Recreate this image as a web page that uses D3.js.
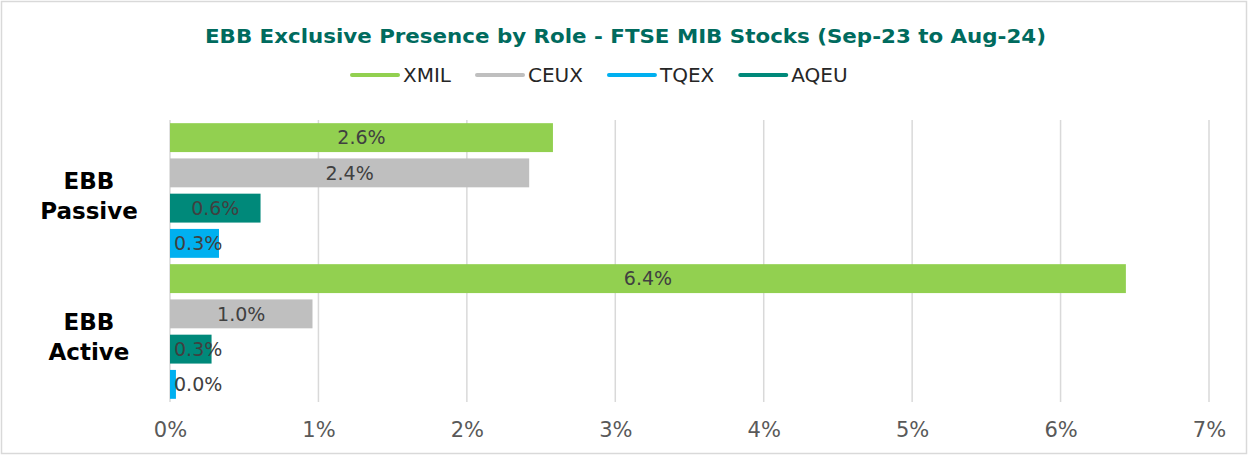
<!DOCTYPE html>
<html>
<head>
<meta charset="utf-8">
<script src="https://cdn.jsdelivr.net/npm/d3@7"></script>
<style>
  html, body { margin: 0; padding: 0; background: #fff; }
  svg { display: block; }
</style>
</head>
<body>
<svg id="viz" width="1248" height="455"></svg>
<script>
// ----------------------- DATA
const categories = ['EBB Passive', 'EBB Active'];
const series = ['XMIL', 'CEUX', 'AQEU', 'TQEX'];      // bar order inside a group
const legendOrder = ['XMIL', 'CEUX', 'TQEX', 'AQEU'];  // order shown in the legend
const xmil = [2.58, 6.44];
const ceux = [2.42, 0.96];
const aqeu = [0.61, 0.28];
const tqex = [0.33, 0.04];
const xTicks = [0, 1, 2, 3, 4, 5, 6, 7];
const title = 'EBB Exclusive Presence by Role - FTSE MIB Stocks (Sep-23 to Aug-24)';

const values = { XMIL: xmil, CEUX: ceux, AQEU: aqeu, TQEX: tqex };
const colors = { XMIL: '#92d050', CEUX: '#bfbfbf', TQEX: '#00b0f0', AQEU: '#00897a' };

// ----------------------- SETTINGS
const W = 1248, H = 455;
const plot = { left: 170, right: 1209, top: 120, bottom: 402 };

const svg = d3.select('#viz');

// chart border
svg.append('rect')
  .attr('x', 1.5).attr('y', 1.5)
  .attr('width', W - 3).attr('height', H - 3)
  .attr('fill', '#fff')
  .attr('stroke', '#d9d9d9')
  .attr('stroke-width', 1.5);

// ----------------------- SCALES
const x = d3.scaleLinear().domain([0, 7]).range([plot.left, plot.right]);
const y0 = d3.scaleBand().domain(categories).range([plot.top, plot.bottom]).padding(0);
const y1 = d3.scaleBand().domain(series).range([0, y0.bandwidth()])
  .paddingInner(0.18).paddingOuter(0.09);

// ----------------------- TITLE + LEGEND
// the original font is wider than DejaVu, so stretch to its width
svg.append('text')
  .attr('x', 205).attr('y', 43)
  .attr('textLength', 841)
  .attr('lengthAdjust', 'spacingAndGlyphs')
  .style('font-family', 'Verdana, "DejaVu Sans", sans-serif')
  .style('font-weight', 'bold')
  .style('font-size', '20px')
  .style('fill', '#006b5e')
  .text(title);

const legend = svg.append('g').attr('transform', 'translate(350, 75)');
let lx = 0;
legendOrder.forEach(s => {
  const g = legend.append('g').attr('transform', `translate(${lx}, 0)`);
  g.append('line')
    .attr('x1', 2).attr('x2', 48)
    .attr('stroke', colors[s])
    .attr('stroke-width', 4)
    .attr('stroke-linecap', 'round');
  const t = g.append('text')
    .attr('x', 53).attr('y', 7)
    .style('font-family', 'Verdana, "DejaVu Sans", sans-serif')
    .style('font-size', '20px')
    .style('fill', '#262626')
    .text(s);
  lx += 53 + t.node().getComputedTextLength() + 24;
});

// ----------------------- GRID + AXIS
svg.append('g')
  .selectAll('line')
  .data(xTicks)
  .join('line')
  .attr('x1', d => x(d)).attr('x2', d => x(d))
  .attr('y1', plot.top).attr('y2', plot.bottom)
  .attr('stroke', '#d9d9d9')
  .attr('stroke-width', 1.5);

const xAxis = d3.axisBottom(x)
  .tickValues(xTicks)
  .tickFormat(d => d + '%')
  .tickSize(0)
  .tickPadding(0);

svg.append('g')
  .attr('transform', `translate(0, ${plot.bottom + 20})`)
  .call(xAxis)
  .call(g => g.select('.domain').remove())
  .call(g => g.selectAll('text')
    .attr('dy', '0.71em')
    .style('font-family', 'Verdana, "DejaVu Sans", sans-serif')
    .style('font-size', '21px')
    .style('fill', '#595959'));

// ----------------------- BARS
const rows = [];
categories.forEach((c, i) => series.forEach(s => rows.push({ cat: c, s, v: values[s][i] })));

const groups = svg.append('g');

groups.selectAll('.bar')
  .data(rows)
  .join('rect')
  .attr('class', 'bar')
  .attr('x', x(0))
  .attr('y', d => y0(d.cat) + y1(d.s))
  .attr('width', d => x(d.v) - x(0))
  .attr('height', y1.bandwidth())
  .attr('fill', d => colors[d.s]);

const fmt = d => d3.format('.1f')(d) + '%';
groups.selectAll('.lbl')
  .data(rows)
  .join('text')
  .attr('class', 'lbl')
  .attr('y', d => y0(d.cat) + y1(d.s) + y1.bandwidth() / 2)
  .attr('dy', '0.35em')
  .attr('text-anchor', 'middle')
  .style('font-family', 'Verdana, "DejaVu Sans", sans-serif')
  .style('font-size', '19px')
  .style('fill', '#404040')
  .text(d => fmt(d.v))
  .attr('x', function (d) {
    const w = this.getComputedTextLength();
    const mid = (x(0) + x(d.v)) / 2;
    return Math.max(mid, x(0) + w / 2 + 4);
  });

// ----------------------- CATEGORY LABELS
categories.forEach(c => {
  const cy = y0(c) + y0.bandwidth() / 2;
  const t = svg.append('text')
    .attr('text-anchor', 'middle')
    .style('font-family', 'Verdana, "DejaVu Sans", sans-serif')
    .style('font-weight', 'bold')
    .style('font-size', '23px')
    .style('fill', '#000');
  c.split(' ').forEach((word, i) => {
    t.append('tspan')
      .attr('x', 89)
      .attr('y', cy - 2 + i * 30)
      .text(word);
  });
});
</script>
</body>
</html>
